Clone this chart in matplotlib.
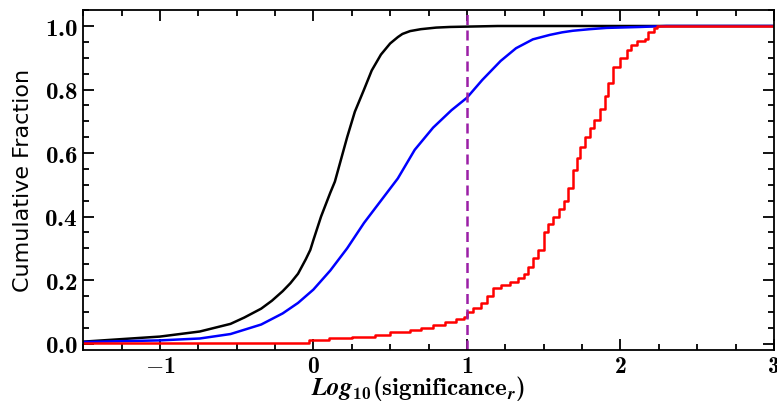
import numpy as np
import matplotlib.pyplot as plt
from matplotlib.ticker import MultipleLocator, FuncFormatter

# bold Computer Modern for tick labels and axis label
plt.rcParams["mathtext.fontset"] = "custom"
plt.rcParams["mathtext.rm"] = "cmr10"
plt.rcParams["mathtext.it"] = "cmmi10"
plt.rcParams["mathtext.bf"] = "cmb10"
plt.rcParams["mathtext.bfit"] = "STIXGeneral:italic:bold"
plt.rcParams["mathtext.fallback"] = "cm"
plt.rcParams["font.size"] = 16

# cumulative fraction curves, log10(significance_r) vs fraction
black_x = [-1.5, -1.0, -0.74, -0.54, -0.45, -0.34, -0.27, -0.20, -0.15, -0.10, -0.05,
           -0.02, 0.0, 0.05, 0.11, 0.14, 0.18, 0.22, 0.27, 0.33, 0.38, 0.44, 0.50,
           0.55, 0.58, 0.63, 0.70, 0.80, 0.89, 1.2, 3.0]
black_y = [0.006, 0.022, 0.038, 0.062, 0.082, 0.110, 0.135, 0.165, 0.19, 0.22, 0.265,
           0.295, 0.326, 0.40, 0.475, 0.51, 0.58, 0.65, 0.73, 0.80, 0.86, 0.91, 0.945,
           0.965, 0.975, 0.984, 0.99, 0.995, 0.997, 1.0, 1.0]

blue_x = [-1.5, -1.0, -0.74, -0.54, -0.34, -0.20, -0.10, 0.0, 0.11, 0.22, 0.33, 0.44,
          0.55, 0.66, 0.78, 0.90, 1.0, 1.10, 1.22, 1.32, 1.43, 1.54, 1.62, 1.69, 1.80,
          1.91, 2.13, 2.3, 3.0]
blue_y = [0.005, 0.010, 0.016, 0.030, 0.060, 0.095, 0.128, 0.17, 0.23, 0.30, 0.38, 0.45,
          0.52, 0.61, 0.68, 0.735, 0.774, 0.83, 0.89, 0.93, 0.958, 0.972, 0.98, 0.985, 0.99,
          0.994, 0.997, 1.0, 1.0]

red_x = [-1.5, -0.03, 0.10, 0.25, 0.40, 0.50, 0.63, 0.70, 0.78, 0.86, 0.93, 0.98,
         1.00, 1.04, 1.09, 1.13, 1.17, 1.22, 1.28, 1.33, 1.37, 1.40, 1.43, 1.46,
         1.50, 1.53, 1.56, 1.60, 1.63, 1.66, 1.69, 1.72, 1.74, 1.77, 1.80, 1.83,
         1.87, 1.90, 1.92, 1.95, 2.00, 2.04, 2.07, 2.11, 2.16, 2.18, 2.22, 2.24, 3.0]
red_y = [0.003, 0.012, 0.018, 0.022, 0.026, 0.038, 0.044, 0.050, 0.060, 0.068, 0.076, 0.085,
         0.100, 0.112, 0.128, 0.150, 0.175, 0.185, 0.195, 0.205, 0.220, 0.240, 0.270, 0.295,
         0.350, 0.375, 0.400, 0.425, 0.450, 0.490, 0.545, 0.585, 0.620, 0.650, 0.680, 0.705,
         0.740, 0.780, 0.820, 0.870, 0.900, 0.925, 0.940, 0.953, 0.960, 0.980, 0.995, 1.0, 1.0]

threshold = 1.0

fig = plt.figure(figsize=(7.77, 4.05), dpi=100)
ax = fig.add_axes([0.107, 0.136, 0.889, 0.839])

ax.plot(black_x, black_y, color='black', lw=1.8)
ax.plot(blue_x, blue_y, color='blue', lw=1.8)
ax.plot(red_x, red_y, color='red', lw=1.8, drawstyle='steps-post')
ax.axvline(threshold, color='#9b1fa6', lw=1.8, ls=(0, (4, 2.2)))

ax.set_xlim(-1.5, 3.0)
ax.set_ylim(-0.02, 1.05)

ax.xaxis.set_major_locator(MultipleLocator(1))
ax.xaxis.set_minor_locator(MultipleLocator(0.25))
ax.yaxis.set_major_locator(MultipleLocator(0.2))
ax.yaxis.set_minor_locator(MultipleLocator(0.05))
ax.xaxis.set_major_formatter(FuncFormatter(lambda v, p: r'$\mathbf{%d}$' % round(v)))
ax.yaxis.set_major_formatter(FuncFormatter(lambda v, p: r'$\mathbf{%.1f}$' % v))

ax.tick_params(which='both', direction='in', top=True, right=True, width=1.3, labelsize=18)
ax.tick_params(which='major', length=8)
ax.tick_params(which='minor', length=4.5)
ax.tick_params(axis='y', pad=4)
ax.tick_params(axis='x', pad=3, labelsize=17)
for s in ax.spines.values():
    s.set_linewidth(1.3)

ax.set_xlabel(r'$\mathbfit{Log}_{\mathbf{10}}\mathbf{(significance}_{\mathbfit{r}}\mathbf{)}$',
              fontsize=18)
ax.xaxis.set_label_coords(0.485, -0.072)
ax.set_ylabel('Cumulative Fraction', fontsize=16, labelpad=8)

fig.savefig('out.png', dpi=100)
